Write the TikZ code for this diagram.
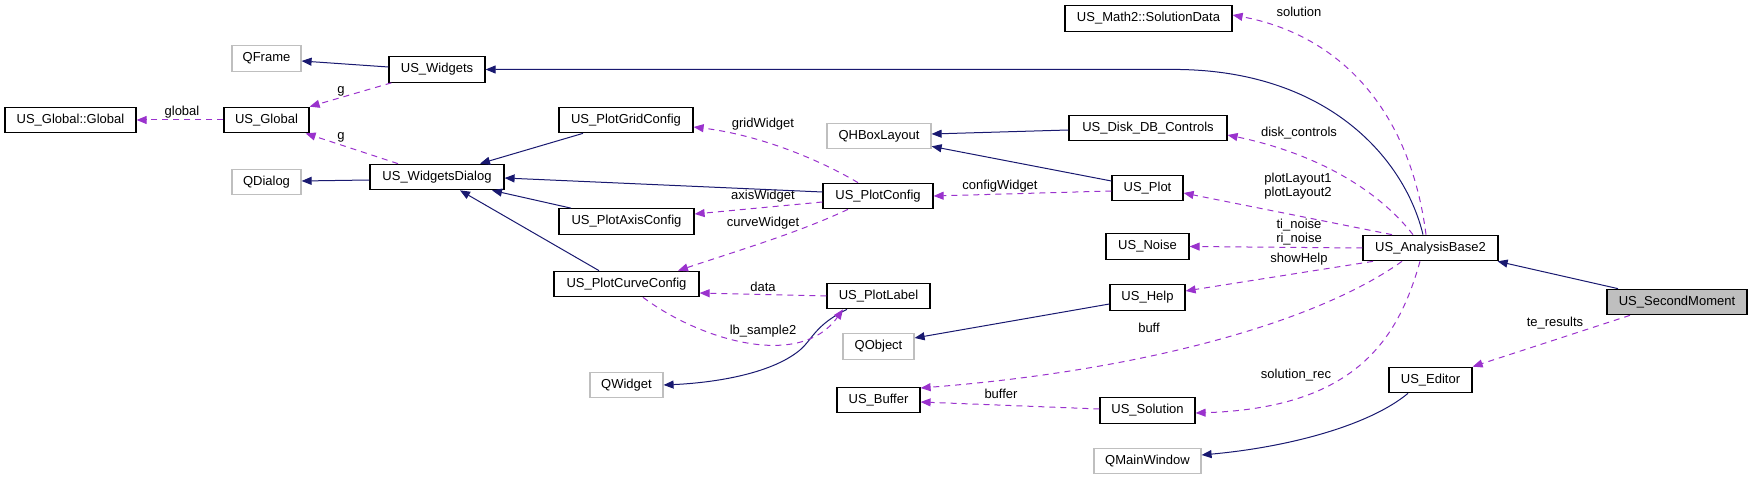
\documentclass[tikz,border=0pt]{standalone}
\usepackage{fontspec}
\setmainfont{Liberation Sans}
\usetikzlibrary{arrows.meta}
\definecolor{inhcol}{HTML}{191970}
\definecolor{usecol}{HTML}{9A32CD}
\definecolor{grycol}{HTML}{BFBFBF}
\begin{document}
\begin{tikzpicture}[x=0.5pt,y=-0.5pt,
  box/.style={draw=black,line width=0.6pt,minimum height=12.75pt,inner sep=0pt,font=\fontsize{6.5}{7.5}\selectfont},
  gbox/.style={box,draw=grycol},
  hbox/.style={box,fill=grycol},
  lbl/.style={inner sep=0pt,align=center,font=\fontsize{6.5}{7}\selectfont},
  inh/.style={draw=inhcol,line width=0.5pt,-{Triangle[length=5pt,width=4pt]}},
  usage/.style={draw=usecol,line width=0.5pt,dash pattern=on 3pt off 2.5pt,-{Triangle[length=5pt,width=4pt]}}]
\useasboundingbox (0,0) rectangle (1752,480);
% nodes
\node[gbox,minimum width=34.5pt] (qframe) at (266.5,58.5) {QFrame};
\node[box,minimum width=48pt] (wid) at (437,69.5) {US\_Widgets};
\node[box,minimum width=65.5pt] (glob) at (70.5,120) {US\_Global::Global};
\node[box,minimum width=42.5pt] (usg) at (266.5,120) {US\_Global};
\node[gbox,minimum width=34.5pt] (qdialog) at (266.5,182) {QDialog};
\node[box,minimum width=67pt] (wdlg) at (437,177) {US\_WidgetsDialog};
\node[box,minimum width=67pt] (grid) at (626,120) {US\_PlotGridConfig};
\node[box,minimum width=67.5pt] (axis) at (626.5,221.5) {US\_PlotAxisConfig};
\node[box,minimum width=72.5pt] (curve) at (626.5,284) {US\_PlotCurveConfig};
\node[gbox,minimum width=52pt] (qhbox) at (879,136) {QHBoxLayout};
\node[box,minimum width=55pt] (pconf) at (878,196) {US\_PlotConfig};
\node[box,minimum width=51.5pt] (plabel) at (878.5,296) {US\_PlotLabel};
\node[gbox,minimum width=35.5pt] (qobject) at (878.5,346.5) {QObject};
\node[gbox,minimum width=36.5pt] (qwidget) at (626.5,385) {QWidget};
\node[box,minimum width=41.5pt] (buffer) at (878.5,400) {US\_Buffer};
\node[box,minimum width=83.5pt] (soldata) at (1148.5,18.5) {US\_Math2::SolutionData};
\node[box,minimum width=79pt] (disk) at (1148,128) {US\_Disk\_DB\_Controls};
\node[box,minimum width=35.5pt] (plot) at (1147.5,188) {US\_Plot};
\node[box,minimum width=41.5pt] (noise) at (1147.5,246.5) {US\_Noise};
\node[box,minimum width=37.5pt] (help) at (1147.5,297.5) {US\_Help};
\node[box,minimum width=47.5pt] (solution) at (1147.5,410.5) {US\_Solution};
\node[gbox,minimum width=53.5pt] (qmain) at (1147.5,461) {QMainWindow};
\node[box,minimum width=67.5pt] (ab2) at (1430.5,248) {US\_AnalysisBase2};
\node[box,minimum width=41.5pt] (editor) at (1430.5,380) {US\_Editor};
\node[hbox,minimum width=70pt] (second) at (1677,302) {US\_SecondMoment};
% labels
\node[lbl] (lg1) at (341,91) {g};
\node[lbl] (lg2) at (341,137) {g};
\node[lbl] (lglobal) at (182,112) {global};
\node[lbl] (lgrid) at (763,124) {gridWidget};
\node[lbl] (laxis) at (763,196) {axisWidget};
\node[lbl] (lcurve) at (763,223) {curveWidget};
\node[lbl] (lconfig) at (1000,186) {configWidget};
\node[lbl] (ldata) at (763,287) {data};
\node[lbl] (llb) at (763,331) {lb\_sample2};
\node[lbl] (lsol) at (1299,12) {solution};
\node[lbl] (ldisk) at (1299,133) {disk\_controls};
\node[lbl] (lplot) at (1298,186) {plotLayout1\\plotLayout2};
\node[lbl] (lnoise) at (1299,232) {ti\_noise\\ri\_noise};
\node[lbl] (lhelp) at (1299,259) {showHelp};
\node[lbl] (lbuff) at (1149,328) {buff};
\node[lbl] (lbuffer) at (1001,394) {buffer};
\node[lbl] (lsolrec) at (1296,375) {solution\_rec};
\node[lbl] (lte) at (1555,323) {te\_results};
% inheritance
\draw[inh] ([yshift=1.25pt]wid.west) -- ([yshift=-1.25pt]qframe.east);
\draw[inh] ([xshift=-3.75pt]ab2.north) .. controls (1405,160) and (1330,72) .. (1180,69.5) -- (wid.east);
\draw[inh] ([yshift=-1.5pt]wdlg.west) -- ([yshift=0.5pt]qdialog.east);
\draw[inh] ([xshift=-21.5pt]grid.south) -- ([xshift=21.5pt]wdlg.north);
\draw[inh] ([yshift=2pt]pconf.west) -- ([yshift=-0.5pt]wdlg.east);
\draw[inh] ([xshift=-27.75pt]axis.north) -- ([xshift=27.5pt]wdlg.south);
\draw[inh] ([xshift=-13.75pt]curve.north) -- ([xshift=11.5pt]wdlg.south);
\draw[inh] ([yshift=-1pt]disk.west) -- ([yshift=1pt]qhbox.east);
\draw[inh] ([yshift=3.5pt]plot.west) -- ([yshift=1.5pt]qhbox.south east);
\draw[inh] ([yshift=-3.25pt]help.west) -- ([yshift=4.25pt]qobject.east);
\draw[inh] ([xshift=-15.75pt]plabel.south) .. controls (815,325) and (812,340) .. (800,350) .. controls (770,375) and (710,383) .. (qwidget.east);
\draw[inh] ([xshift=-29.5pt]second.north) -- ([xshift=-0.5pt]ab2.south east);
\draw[inh] ([xshift=-11.25pt]editor.south) .. controls (1370,425) and (1290,447) .. ([yshift=3pt]qmain.east);
% usage
\draw[usage] ([xshift=1.5pt]wid.south west) -- (usg.north east);
\draw[usage] ([xshift=-19.5pt]wdlg.north) -- ([xshift=-2pt]usg.south east);
\draw[usage] (usg.west) -- (glob.east);
\draw[usage] ([xshift=-10pt]pconf.north) .. controls (820,160) and (760,135) .. ([yshift=-3.5pt]grid.east);
\draw[usage] ([yshift=-3pt]pconf.west) -- ([yshift=3.75pt]axis.east);
\draw[usage] ([xshift=-15pt]pconf.south) .. controls (800,232) and (740,250) .. ([xshift=25.75pt]curve.north);
\draw[usage] ([yshift=-1.5pt]plot.west) -- (pconf.east);
\draw[usage] (plabel.west) -- ([yshift=-4.5pt]curve.east);
\draw[usage] ([xshift=8.25pt]curve.south) .. controls (700,340) and (800,370) .. ([xshift=-17.75pt]plabel.south);
\draw[usage] ([xshift=-2.25pt]ab2.north) .. controls (1410,110) and (1340,35) .. ([yshift=1.75pt]soldata.east);
\draw[usage] ([xshift=-8.75pt]ab2.north) .. controls (1370,180) and (1300,150) .. ([yshift=-3.5pt]disk.east);
\draw[usage] ([xshift=-19.25pt]ab2.north) -- ([yshift=-2.5pt]plot.east);
\draw[usage] (ab2.west) -- (noise.east);
\draw[usage] ([xshift=-28.75pt]ab2.south) -- ([yshift=3.25pt]help.east);
\draw[usage] ([xshift=-14.25pt]ab2.south) .. controls (1320,320) and (1150,370) .. ([yshift=6pt]buffer.east);
\draw[usage] ([yshift=0.75pt]solution.west) -- ([yshift=-1pt]buffer.east);
\draw[usage] ([xshift=-5.25pt]ab2.south) .. controls (1398,340) and (1355,408) .. ([yshift=-1.25pt]solution.east);
\draw[usage] ([xshift=-23.5pt]second.south) -- (editor.north east);
\end{tikzpicture}
\end{document}
